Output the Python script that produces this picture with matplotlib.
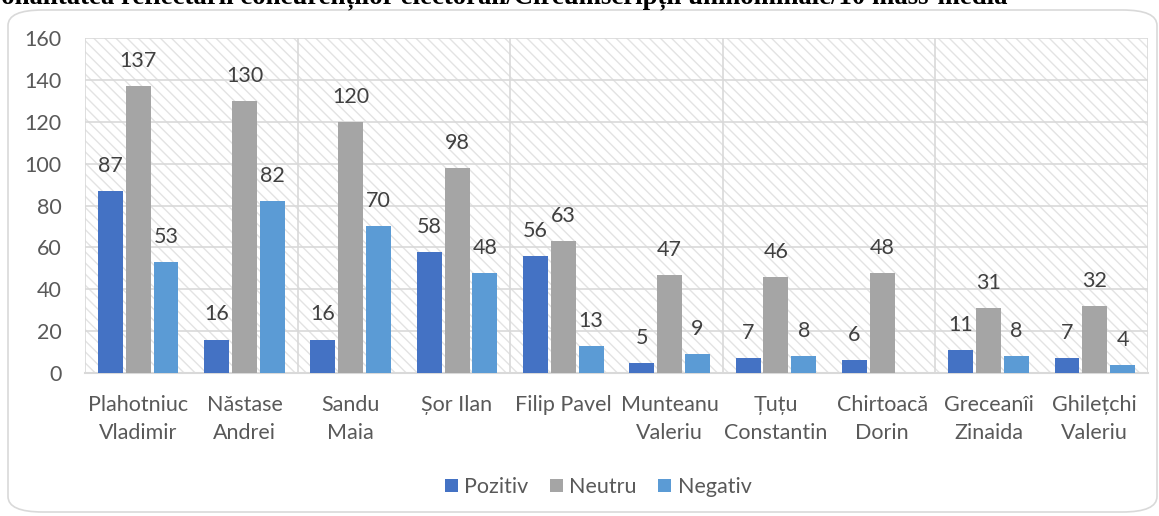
import numpy as np
import matplotlib
matplotlib.use("Agg")
import matplotlib.pyplot as plt
from matplotlib.patches import Rectangle, FancyBboxPatch

candidati = ["Plahotniuc\nVladimir", "Năstase\nAndrei", "Sandu\nMaia", "Șor Ilan",
             "Filip Pavel", "Munteanu\nValeriu", "Țuțu\nConstantin", "Chirtoacă\nDorin",
             "Greceanîi\nZinaida", "Ghilețchi\nValeriu"]
pozitiv = [87, 16, 16, 58, 56, 5, 7, 6, 11, 7]
neutru = [137, 130, 120, 98, 63, 47, 46, 48, 31, 32]
negativ = [53, 82, 70, 48, 13, 9, 8, 0, 8, 4]
serii = ["Pozitiv", "Neutru", "Negativ"]
culori = ["#4472C4", "#A5A5A5", "#5B9BD5"]
titlu = "Tonalitatea reflectării concurenților electorali/Circumscripții uninominale/10 mass-media"

plt.rcParams['font.family'] = ['Lato', 'DejaVu Sans']
plt.rcParams['hatch.linewidth'] = 1.0
text_col = "#595959"
grid_col = "#d9d9d9"
fs = 15.5

W, H = 1159, 516
fig = plt.figure(figsize=(W / 100, H / 100), dpi=100)

# chart frame
fig.patches.append(FancyBboxPatch((8 / W, 4 / H), 1149 / W, 502 / H,
                                  boxstyle="round,pad=0,rounding_size=0.03",
                                  transform=fig.transFigure, fc="white",
                                  ec=grid_col, lw=1.2, zorder=-5))

# titlul e taiat sus, ca in original
fig.text(1008 / W, 1 - 3 / H, titlu, ha="right", va="baseline",
         fontsize=19.3, fontweight="bold", family="Liberation Serif", color="black")

ax = fig.add_axes([85 / W, 1 - 373 / H, (1148 - 85) / W, (373 - 38) / H])
ax.set_facecolor("none")
ax.add_patch(Rectangle((0, 0), 1, 1, transform=ax.transAxes, fc="white",
                       ec="#e3e3e3", hatch="\\\\\\", lw=0, zorder=-2))

x = np.arange(len(candidati))
w = 0.235
step = 0.262
for k, (vals, nume, c) in enumerate(zip([pozitiv, neutru, negativ], serii, culori)):
    xs = x + (k - 1) * step
    ax.bar(xs, vals, width=w, color=c, label=nume, zorder=3)
    for xi, v in zip(xs, vals):
        if v:
            ax.annotate(str(v), (xi, v), xytext=(0, 18), textcoords="offset points",
                        ha="center", va="center", fontsize=fs, color="#404040")

ax.set_xlim(-0.5, len(candidati) - 0.5)
ax.set_ylim(0, 160)
ax.set_yticks(range(0, 161, 20))
ax.yaxis.grid(True, color=grid_col, lw=1.2, zorder=1)
for xv in [-0.5, 1.5, 3.5, 5.5, 7.5, 9.5]:
    ax.axvline(xv, color=grid_col, lw=1.2, zorder=1)
ax.set_axisbelow(True)
for s in ["top", "right", "left"]:
    ax.spines[s].set_visible(False)
ax.spines["bottom"].set_color(grid_col)
ax.spines["bottom"].set_linewidth(1.5)

ax.set_xticks(x)
ax.set_xticklabels(candidati, linespacing=1.5)
ax.tick_params(axis="x", length=0, pad=15.5, labelsize=fs, labelcolor=text_col)
ax.tick_params(axis="y", length=0, pad=17, labelsize=fs, labelcolor=text_col)

fig.legend(loc="center", bbox_to_anchor=(598 / W, 1 - 487 / H), ncol=3, frameon=False,
           fontsize=fs, handlelength=0.6, handleheight=0.6, handletextpad=0.3,
           columnspacing=1.0, labelcolor=text_col)

fig.savefig("out.png", dpi=100)
